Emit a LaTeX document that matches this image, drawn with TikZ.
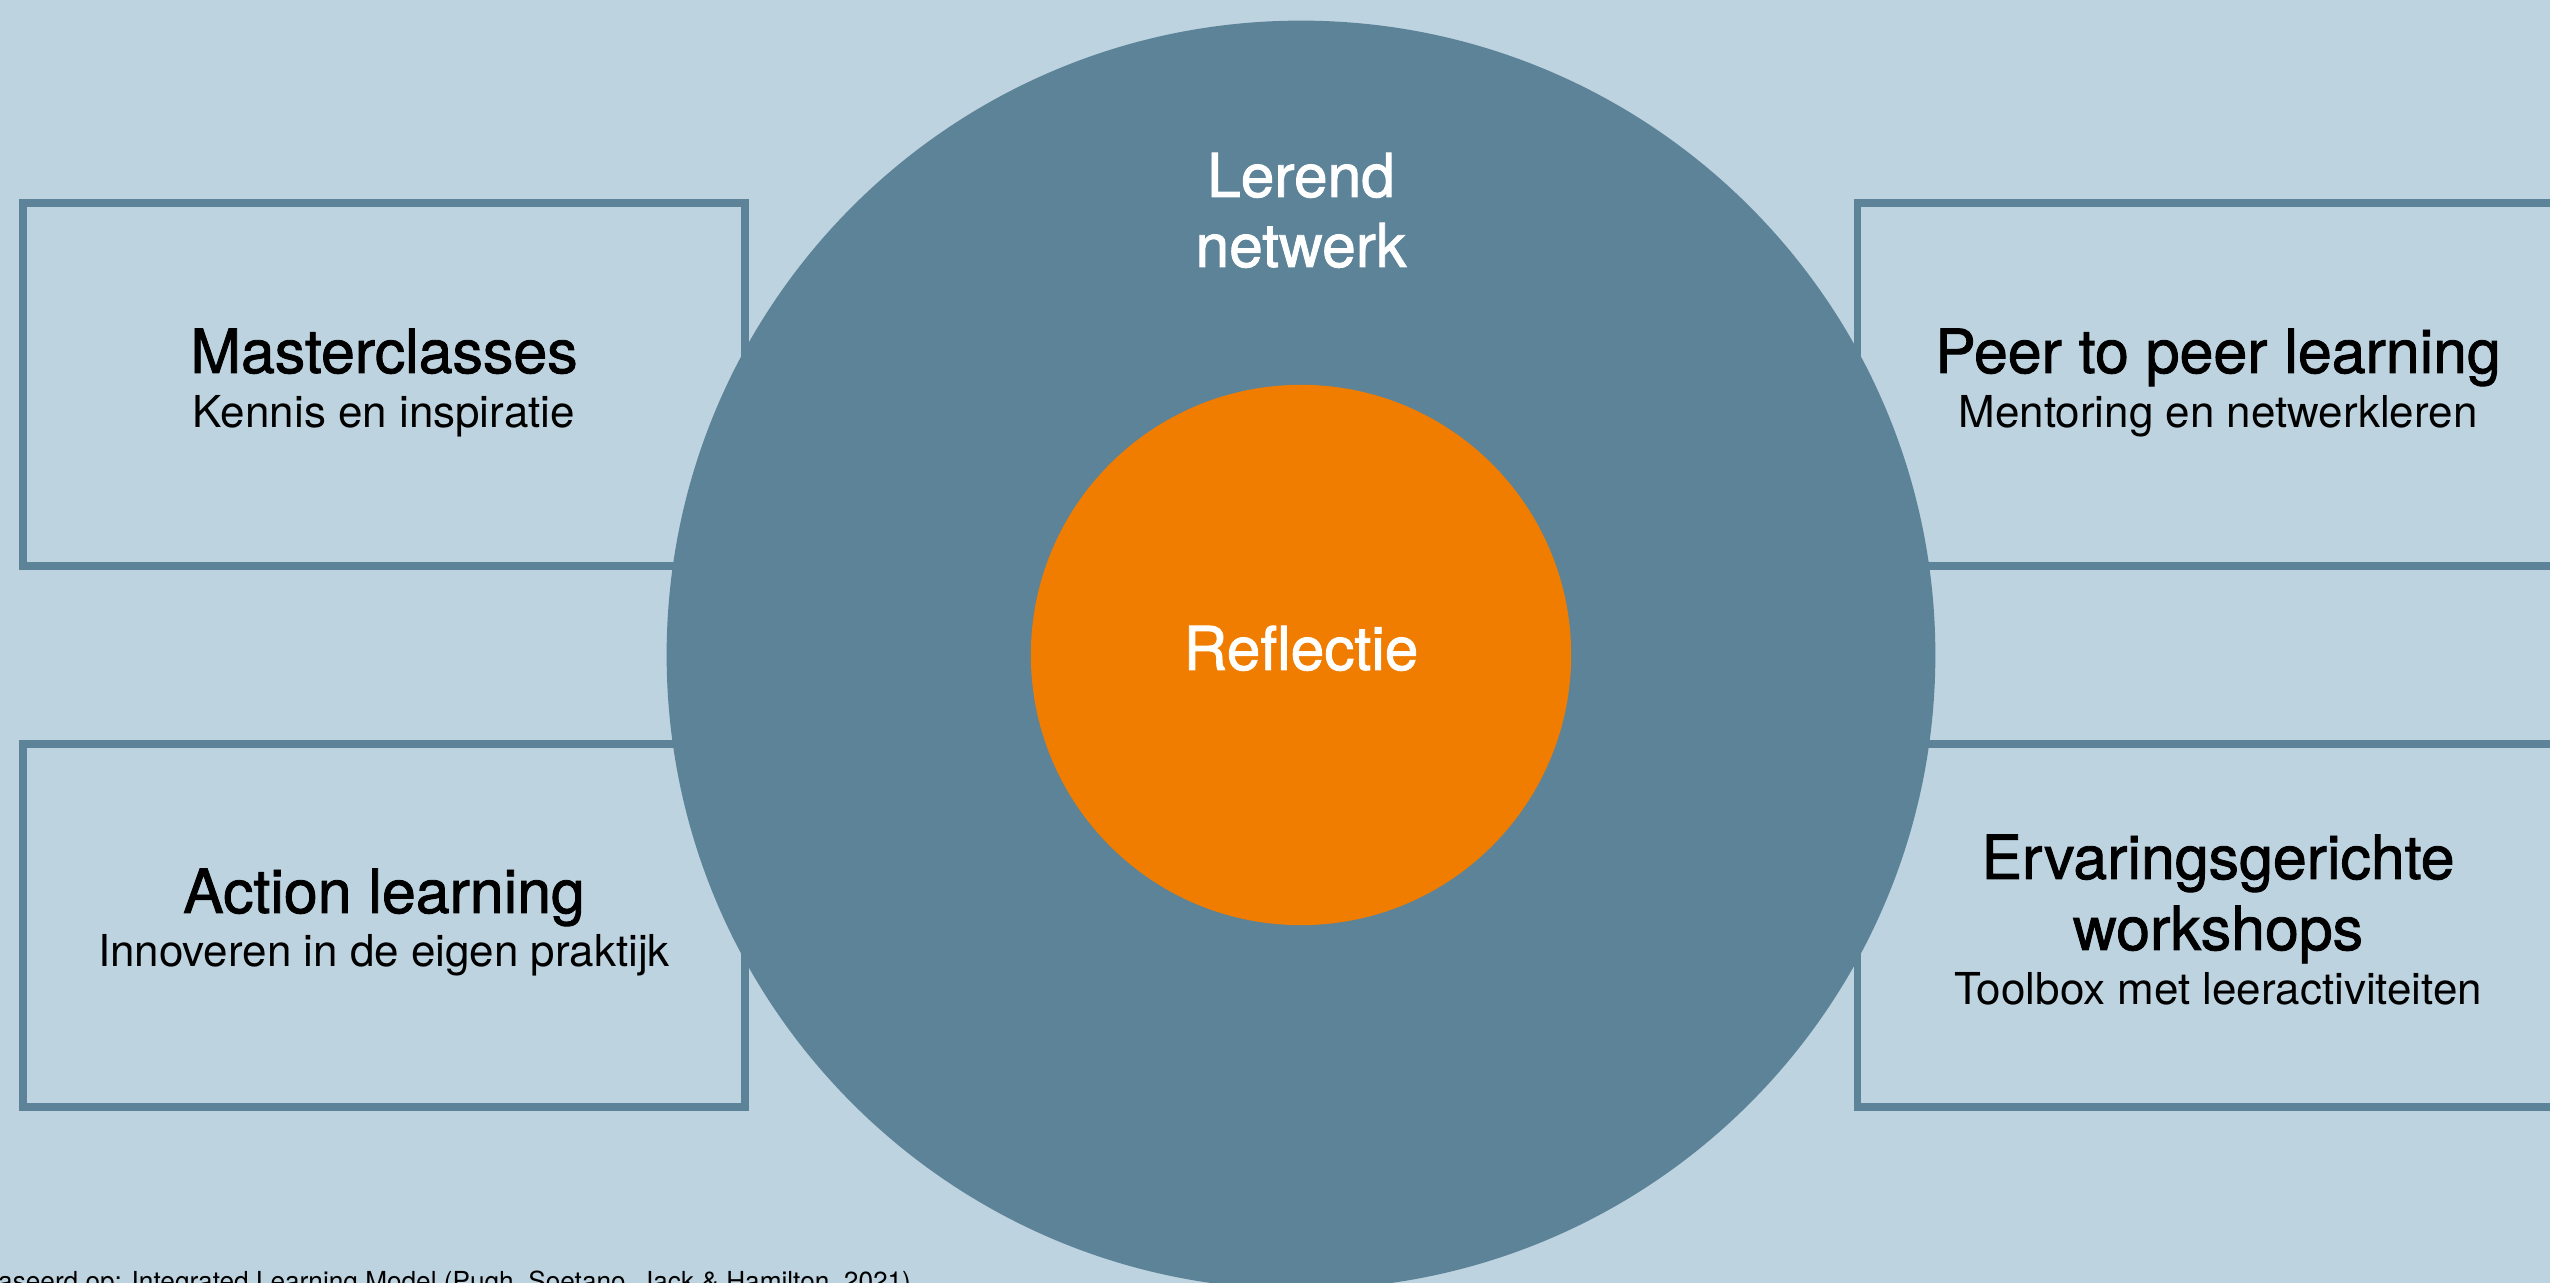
\documentclass[tikz,border=0pt]{standalone}
\usepackage{fontspec}
\setmainfont{TeX Gyre Heros}
\newfontfamily\medfont[FakeBold=1.4]{TeX Gyre Heros}
\definecolor{bgblue}{RGB}{189,211,223}
\definecolor{ringblue}{RGB}{92,131,151}
\definecolor{coreorange}{RGB}{240,125,0}
\begin{document}
\begin{tikzpicture}[x=0.01cm,y=-0.01cm,
  panel/.style={draw=ringblue,line width=2.13pt,minimum width=7.22cm,minimum height=3.63cm,inner sep=0pt},
  ttl/.style={anchor=base,inner sep=0pt,text=black,font=\medfont\fontsize{17.3}{20}\selectfont},
  sub/.style={anchor=base,inner sep=0pt,text=black,font=\fontsize{12.5}{14}\selectfont},
  wlabel/.style={anchor=base,inner sep=0pt,text=white,font=\medfont\fontsize{17.2}{20}\selectfont},
  note/.style={anchor=base west,inner sep=0pt,text=black,font=\fontsize{7.45}{9}\selectfont}]
\useasboundingbox (0,0) rectangle (2550,1283);
\clip (0,0) rectangle (2550,1283);
\fill[bgblue] (0,0) rectangle (2550,1283);
% boxes
\node[panel] (boxTL) at (384,384.5) {};
\node[panel] (boxBL) at (384,925.5) {};
\node[panel] (boxTR) at (2218.5,384.5) {};
\node[panel] (boxBR) at (2218.5,925.5) {};
% circles
\node[circle,fill=ringblue,minimum size=12.68cm,inner sep=0pt] (ring) at (1301,655) {};
\node[circle,fill=coreorange,minimum size=5.40cm,inner sep=0pt] (core) at (1301,655) {};
% circle labels
\node[wlabel] (ln1) at (1301,197) {Lerend};
\node[wlabel] (ln2) at (1301,267) {netwerk};
\node[wlabel] (refl) at (1301,670) {Reflectie};
% box texts
\node[ttl] (mcT) at (384,373) {Masterclasses};
\node[sub] (mcS) at (384,428) {Kennis en inspiratie};
\node[ttl] (alT) at (384,913) {Action learning};
\node[sub] (alS) at (384,967) {Innoveren in de eigen praktijk};
\node[ttl] (ppT) at (2218,373) {Peer to peer learning};
\node[sub] (ppS) at (2218,428) {Mentoring en netwerkleren};
\node[ttl] (ewT1) at (2218,879) {Ervaringsgerichte};
\node[ttl] (ewT2) at (2218,950) {workshops};
\node[sub] (ewS) at (2218,1005) {Toolbox met leeractiviteiten};
% footnote
\node[note] (src) at (-52,1291) {Gebaseerd op: Integrated Learning Model (Pugh, Soetano, Jack \& Hamilton, 2021)};
\end{tikzpicture}
\end{document}
